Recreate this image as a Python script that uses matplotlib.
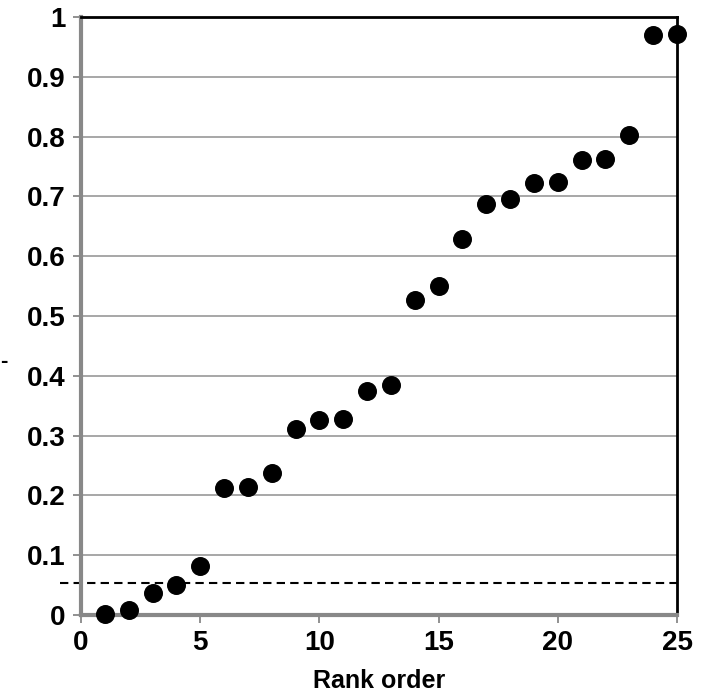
import matplotlib.pyplot as plt
from matplotlib.lines import Line2D

plt.rcParams['font.family'] = ['Liberation Sans', 'DejaVu Sans']
plt.rcParams['font.weight'] = 'bold'

# rank order and values
ranks = list(range(1, 26))
values = [0.002, 0.008, 0.037, 0.050, 0.082, 0.212, 0.214, 0.237, 0.311, 0.326,
          0.328, 0.375, 0.385, 0.527, 0.550, 0.629, 0.687, 0.696, 0.722, 0.724,
          0.761, 0.763, 0.803, 0.970, 0.972]
threshold = 0.054

x_ticks = [0, 5, 10, 15, 20, 25]
y_ticks = [0, 0.1, 0.2, 0.3, 0.4, 0.5, 0.6, 0.7, 0.8, 0.9, 1]
y_labels = ['0', '0.1', '0.2', '0.3', '0.4', '0.5', '0.6', '0.7', '0.8', '0.9', '1']

fig = plt.figure(figsize=(7.2, 6.97), dpi=100)
ax = fig.add_axes([0.1125, 0.1176, 0.8278, 0.858])

# horizontal gridlines
for yv in y_ticks[1:-1]:
    ax.axhline(yv, color='#a0a0a0', lw=1.3, zorder=1)

ax.scatter(ranks, values, s=160, color='black', zorder=3, clip_on=False)

# dashed threshold line, sticking out a bit to the left of the axis
ax.add_line(Line2D([-0.035, 1.0], [threshold, threshold], color='black', lw=1.5,
                   ls=(0, (4, 2.5)), transform=ax.get_yaxis_transform(),
                   clip_on=False, zorder=2))

ax.set_xlim(0, 25)
ax.set_ylim(0, 1)
ax.set_xticks(x_ticks)
ax.set_yticks(y_ticks)
ax.set_yticklabels(y_labels)
ax.tick_params(axis='both', labelsize=20, direction='out', length=6, width=1.3,
               color='#888888', pad=5)
for lbl in ax.get_xticklabels() + ax.get_yticklabels():
    lbl.set_fontweight('bold')

ax.spines['left'].set_color('#888888')
ax.spines['left'].set_linewidth(3)
ax.spines['bottom'].set_color('#888888')
ax.spines['bottom'].set_linewidth(3)
ax.spines['top'].set_color('black')
ax.spines['top'].set_linewidth(2)
ax.spines['right'].set_color('black')
ax.spines['right'].set_linewidth(2)

ax.set_xlabel('Rank order', fontsize=18, fontweight='bold', labelpad=9)

# small mark left of the axis, what remains of the y-axis label
fig.text(0.0, 0.482, '-', fontsize=16, fontweight='bold', ha='left', va='center')

fig.savefig('out.png', dpi=100)
